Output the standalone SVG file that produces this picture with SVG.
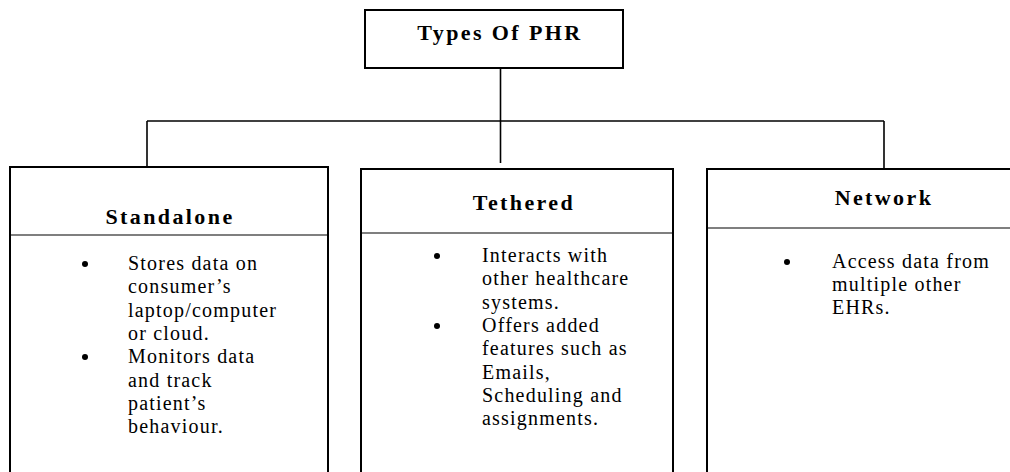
<svg xmlns="http://www.w3.org/2000/svg" width="1010" height="472" viewBox="0 0 1010 472">
<style>
.box{fill:#fff;stroke:#000;stroke-width:2}
.div{stroke:#000;stroke-width:1.2}
.conn{stroke:#000;stroke-width:1.6;fill:none}
.title{font-family:"Liberation Serif",serif;font-weight:bold;font-size:22px;letter-spacing:2.4px;text-anchor:middle;fill:#000}
.body{font-family:"Liberation Serif",serif;font-size:20px;letter-spacing:1.2px;fill:#000}
.bul{fill:#000}
</style>
<rect width="1010" height="472" fill="#fff"/>
<g id="connectors">
<line class="conn" x1="500.5" y1="68" x2="500.5" y2="163"/>
<line class="conn" x1="147" y1="121" x2="884" y2="121"/>
<line class="conn" x1="147" y1="121" x2="147" y2="167"/>
<line class="conn" x1="884" y1="121" x2="884" y2="168"/>
</g>
<g id="root">
<rect class="box" x="365" y="10" width="258" height="58"/>
<text class="title" x="500" y="40">Types Of PHR</text>
</g>
<g id="standalone">
<rect class="box" x="10" y="167" width="318" height="320"/>
<line class="div" x1="10" y1="235" x2="328" y2="235"/>
<text class="title" x="170" y="224">Standalone</text>
<circle class="bul" cx="85" cy="264" r="3"/>
<circle class="bul" cx="85" cy="357" r="3"/>
<text class="body" x="128" y="270">Stores data on</text>
<text class="body" x="128" y="293">consumer’s</text>
<text class="body" x="128" y="317">laptop/computer</text>
<text class="body" x="128" y="340">or cloud.</text>
<text class="body" x="128" y="363">Monitors data</text>
<text class="body" x="128" y="387">and track</text>
<text class="body" x="128" y="410">patient’s</text>
<text class="body" x="128" y="433">behaviour.</text>
</g>
<g id="tethered">
<rect class="box" x="361" y="169" width="312" height="320"/>
<line class="div" x1="361" y1="233" x2="673" y2="233"/>
<text class="title" x="524" y="210">Tethered</text>
<circle class="bul" cx="437" cy="256" r="3"/>
<circle class="bul" cx="437" cy="326" r="3"/>
<text class="body" x="482" y="262">Interacts with</text>
<text class="body" x="482" y="285">other healthcare</text>
<text class="body" x="482" y="309">systems.</text>
<text class="body" x="482" y="332">Offers added</text>
<text class="body" x="482" y="355">features such as</text>
<text class="body" x="482" y="379">Emails,</text>
<text class="body" x="482" y="402">Scheduling and</text>
<text class="body" x="482" y="425">assignments.</text>
</g>
<g id="network">
<rect class="box" x="707" y="169" width="320" height="320"/>
<line class="div" x1="707" y1="228" x2="1010" y2="228"/>
<text class="title" x="884" y="205">Network</text>
<circle class="bul" cx="787" cy="262" r="3"/>
<text class="body" x="832" y="268">Access data from</text>
<text class="body" x="832" y="291">multiple other</text>
<text class="body" x="832" y="314">EHRs.</text>
</g>
</svg>
